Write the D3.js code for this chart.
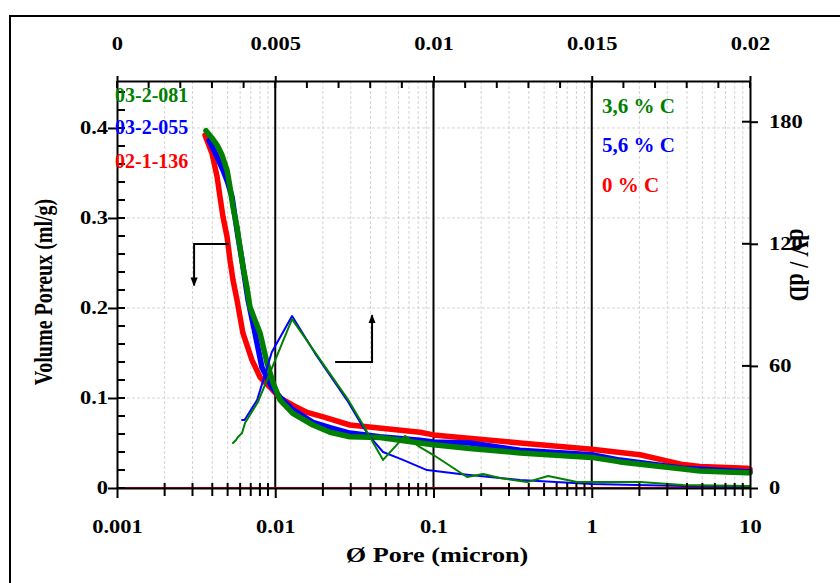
<!DOCTYPE html>
<html><head><meta charset="utf-8">
<script src="https://cdn.jsdelivr.net/npm/d3@7"></script>
<style>body{margin:0;background:#fff} text{font-family:"Liberation Serif","Times New Roman",serif;font-weight:bold}</style>
</head><body><svg id="c" width="840" height="583"></svg>
<script>
// ---- data ----
const xTicks = [0.001, 0.01, 0.1, 1, 10];
const xTopTicks = [0, 0.005, 0.01, 0.015, 0.02];
const yLeftTicks = [0, 0.1, 0.2, 0.3, 0.4];
const yRightTicks = [0, 60, 120, 180];

// cumulative pore volume (ml/g) vs pore diameter (micron)
const redDiam = [0.0036,0.00398,0.00429,0.00448,0.00468,0.00496,0.00518,0.00541,0.00573,0.00625,0.00713,0.00802,0.00927,0.0107,0.0129,0.0159,0.0201,0.0296,0.038,0.0822,0.1,0.352,1.0,2.02,3.77,4.83,9.57,10];
const redVol  = [0.392,0.372,0.346,0.323,0.301,0.279,0.253,0.231,0.209,0.172,0.142,0.123,0.112,0.100,0.092,0.084,0.079,0.070,0.068,0.062,0.059,0.050,0.043,0.037,0.026,0.024,0.022,0.021];

const blueDiam = [0.00382,0.00429,0.00468,0.00502,0.00534,0.00557,0.00582,0.00617,0.00644,0.00673,0.00745,0.00824,0.00952,0.0107,0.0129,0.0173,0.0222,0.0296,0.0459,0.0822,0.1,0.17,0.352,1.0,1.51,3.77,9.57,10];
const blueVol  = [0.386,0.368,0.353,0.339,0.323,0.301,0.279,0.253,0.231,0.209,0.172,0.134,0.112,0.101,0.087,0.073,0.067,0.061,0.057,0.053,0.051,0.050,0.042,0.037,0.031,0.022,0.018,0.018];

const greenDiam = [0.00365,0.00398,0.00429,0.00461,0.00496,0.00518,0.00541,0.00573,0.00598,0.00625,0.00662,0.00692,0.00802,0.00887,0.00969,0.0107,0.0129,0.0173,0.0222,0.0296,0.0459,0.0822,0.1,0.17,0.352,1.0,1.51,3.77,4.83,9.57,10];
const greenVol  = [0.397,0.389,0.381,0.370,0.353,0.334,0.312,0.290,0.268,0.246,0.223,0.201,0.172,0.139,0.117,0.098,0.083,0.070,0.062,0.057,0.056,0.050,0.048,0.044,0.039,0.034,0.029,0.021,0.019,0.017,0.017];

// differential dV/dD vs pore diameter
const redDiffDiam = [0.001, 10];
const redDiffVal  = [0, 0];
const blueDiffDiam = [0.00617,0.0064,0.00768,0.00952,0.01277,0.0178,0.0284,0.0353,0.0397,0.048,0.0641,0.091,0.147,0.352,1.0,3.77,9.57,10];
const blueDiffVal  = [33.4,33.4,43.2,66.8,84.5,66.3,43.2,30.9,25.1,17.7,13.8,8.8,6.9,3.9,2.0,1.0,0.5,0.5];
const greenDiffDiam = [0.00541,0.00565,0.00582,0.00598,0.00617,0.00644,0.00778,0.01277,0.0178,0.0284,0.0353,0.048,0.066,0.0822,0.1,0.163,0.206,0.263,0.39,0.53,0.807,2.02,3.77,9.57,10];
const greenDiffVal  = [22.1,23.6,25.1,26.0,27.0,31.9,42.3,83.0,66.8,44.2,31.9,13.8,25.6,20.1,16.2,5.4,6.9,4.9,2.9,5.9,2.9,2.9,1.5,1.0,1.0];

const leftLabels = ["03-2-081","03-2-055","02-1-136"];
const rightLabels = ["3,6 % C","5,6 % C","0 % C"];
const colors = {green:"#008000", blue:"#0000ff", red:"#ff0000"};

// ---- layout ----
const svg = d3.select("#c");
const L = 117, R = 750, T = 81, B = 488, SX = 1.25;
const x = d3.scaleLog().domain([0.001, 10]).range([L, R]);
const xTop = d3.scaleLinear().domain([0, 0.02]).range([L, R]);
const yL = d3.scaleLinear().domain([0, 0.4522]).range([B, T]);
const yR = d3.scaleLinear().domain([0, 200]).range([B, T]);

// outer frame
svg.append("path").attr("d", `M10,590V16H845`).attr("fill","none").attr("stroke","#000").attr("stroke-width",2);

// minor grid
const minorX = [];
for (let e = -3; e < 1; e++) for (let m = 2; m <= 9; m++) minorX.push(m * Math.pow(10, e));
const grid = svg.append("g").attr("stroke","#d4d4d4").attr("stroke-width",1).attr("stroke-dasharray","3,2");
grid.selectAll("line.v").data(minorX).join("line").attr("x1",d=>x(d)).attr("x2",d=>x(d)).attr("y1",T).attr("y2",B);
grid.selectAll("line.h").data([0.1,0.2,0.3,0.4]).join("line").attr("x1",L).attr("x2",R).attr("y1",d=>yL(d)).attr("y2",d=>yL(d));

// decade lines
svg.append("g").selectAll("line").data([0.01,0.1,1]).join("line")
  .attr("x1",d=>x(d)).attr("x2",d=>x(d)).attr("y1",T).attr("y2",B).attr("stroke","#000").attr("stroke-width",2);

// curves
const lineL = (xs, ys) => d3.line().x((d,i)=>x(xs[i])).y((d,i)=>yL(ys[i]))(xs);
const lineR = (xs, ys) => d3.line().x((d,i)=>x(xs[i])).y((d,i)=>yR(ys[i]))(xs);
const curves = svg.append("g").attr("fill","none").attr("stroke-linejoin","round").attr("stroke-linecap","round");
curves.append("path").attr("d", lineR(redDiffDiam, redDiffVal)).attr("stroke",colors.red).attr("stroke-width",2);
curves.append("path").attr("d", lineL(redDiam, redVol)).attr("stroke",colors.red).attr("stroke-width",5.5);
curves.append("path").attr("d", lineL(blueDiam, blueVol)).attr("stroke",colors.blue).attr("stroke-width",5.5);
curves.append("path").attr("d", lineL(greenDiam, greenVol)).attr("stroke",colors.green).attr("stroke-width",5.5);
curves.append("path").attr("d", lineR(blueDiffDiam, blueDiffVal)).attr("stroke",colors.blue).attr("stroke-width",2);
curves.append("path").attr("d", lineR(greenDiffDiam, greenDiffVal)).attr("stroke",colors.green).attr("stroke-width",2);

// stretch helper for horizontally-widened tick labels
function stretch(sel){
  sel.each(function(){
    const t = d3.select(this);
    const x0 = +t.attr("x") || 0, y0 = +t.attr("y") || 0;
    t.attr("x",0).attr("y",0).attr("transform",`translate(${x0},${y0}) scale(${SX},1)`);
  });
}
function styleAxis(g){
  g.select(".domain").attr("stroke","#000").attr("stroke-width",2);
  g.selectAll(".tick line").attr("stroke","#000").attr("stroke-width",2);
  g.selectAll("text").attr("font-size",18).attr("fill","#000")
    .style("font-family","'Liberation Serif',serif").style("font-weight","bold");
}

// bottom axis
const gB = svg.append("g").attr("transform",`translate(0,${B})`)
  .call(d3.axisBottom(x).tickValues(xTicks).tickFormat(d=>String(d)).tickSize(10).tickSizeOuter(0).tickPadding(22));
styleAxis(gB); stretch(gB.selectAll("text"));
gB.selectAll("line.minor").data(minorX).join("line").attr("class","minor")
  .attr("x1",d=>x(d)).attr("x2",d=>x(d)).attr("y1",-5).attr("y2",8).attr("stroke","#000").attr("stroke-width",2);

// top axis
const topMinor = d3.range(0, 21).map(i => i * 0.001);
const gT = svg.append("g").attr("transform",`translate(0,${T})`)
  .call(d3.axisTop(xTop).tickValues(xTopTicks).tickFormat(d=>String(d)).tickSize(5).tickSizeOuter(0).tickPadding(26));
styleAxis(gT); stretch(gT.selectAll("text"));
gT.selectAll("line.minor").data(topMinor).join("line").attr("class","minor")
  .attr("x1",d=>xTop(d)).attr("x2",d=>xTop(d)).attr("y1",0).attr("y2",7).attr("stroke","#000").attr("stroke-width",2);

// left axis
const leftMinor = d3.range(0, 23).map(i => i * 0.02);
const gL = svg.append("g").attr("transform",`translate(${L},0)`)
  .call(d3.axisLeft(yL).tickValues(yLeftTicks).tickFormat(d=>String(d)).tickSize(9).tickSizeOuter(0).tickPadding(0));
styleAxis(gL); stretch(gL.selectAll("text"));
gL.selectAll("line.minor").data(leftMinor).join("line").attr("class","minor")
  .attr("x1",0).attr("x2",8).attr("y1",d=>yL(d)).attr("y2",d=>yL(d)).attr("stroke","#000").attr("stroke-width",2);

// right axis
const gR = svg.append("g").attr("transform",`translate(${R},0)`)
  .call(d3.axisRight(yR).tickValues(yRightTicks).tickSize(8).tickSizeOuter(0).tickPadding(11));
styleAxis(gR); stretch(gR.selectAll("text"));
gR.selectAll("line.minor").data(yRightTicks).join("line").attr("class","minor")
  .attr("x1",-8).attr("x2",0).attr("y1",d=>yR(d)).attr("y2",d=>yR(d)).attr("stroke","#000").attr("stroke-width",2);

// axis titles
svg.append("text").attr("transform",`translate(437,562) scale(${SX},1)`).attr("text-anchor","middle")
  .attr("font-size",21).text("Ø Pore (micron)");
svg.append("text").attr("transform",`translate(43,292) scale(${SX},1) rotate(-90)`).attr("text-anchor","middle")
  .attr("dy","0.35em").attr("font-size",20).text("Volume Poreux (ml/g)");
svg.append("text").attr("transform",`translate(800,265) scale(${SX},1) rotate(90)`).attr("text-anchor","middle")
  .attr("dy","0.35em").attr("font-size",22).text("dV / dD");

// legends
const lcol = [colors.green, colors.blue, colors.red];
svg.selectAll("text.ll").data(leftLabels).join("text").attr("class","ll")
  .attr("x",115).attr("y",(d,i)=>[102,134,168][i]).attr("font-size",20).attr("fill",(d,i)=>lcol[i]).text(d=>d);
svg.selectAll("text.rl").data(rightLabels).join("text").attr("class","rl")
  .attr("x",602).attr("y",(d,i)=>[113,152,192][i]).attr("font-size",21).attr("fill",(d,i)=>lcol[i]).text(d=>d);

// arrows
const defs = svg.append("defs");
defs.append("marker").attr("id","ah").attr("viewBox","0 0 10 10").attr("refX",9).attr("refY",5)
  .attr("markerWidth",9).attr("markerHeight",9).attr("orient","auto-start-reverse").attr("markerUnits","userSpaceOnUse")
  .append("path").attr("d","M0,1L10,5L0,9Z").attr("fill","#000");
const arrowL = [[0.0051,0.271],[0.00307,0.271],[0.00307,0.225]];
const arrowR = [[0.0239,0.14],[0.0409,0.14],[0.0409,0.192]];
const aLine = d3.line().x(d=>x(d[0])).y(d=>yL(d[1]));
svg.append("path").attr("d",aLine(arrowL)).attr("fill","none").attr("stroke","#000").attr("stroke-width",2).attr("marker-end","url(#ah)");
svg.append("path").attr("d",aLine(arrowR)).attr("fill","none").attr("stroke","#000").attr("stroke-width",2).attr("marker-end","url(#ah)");
</script>
</body></html>
